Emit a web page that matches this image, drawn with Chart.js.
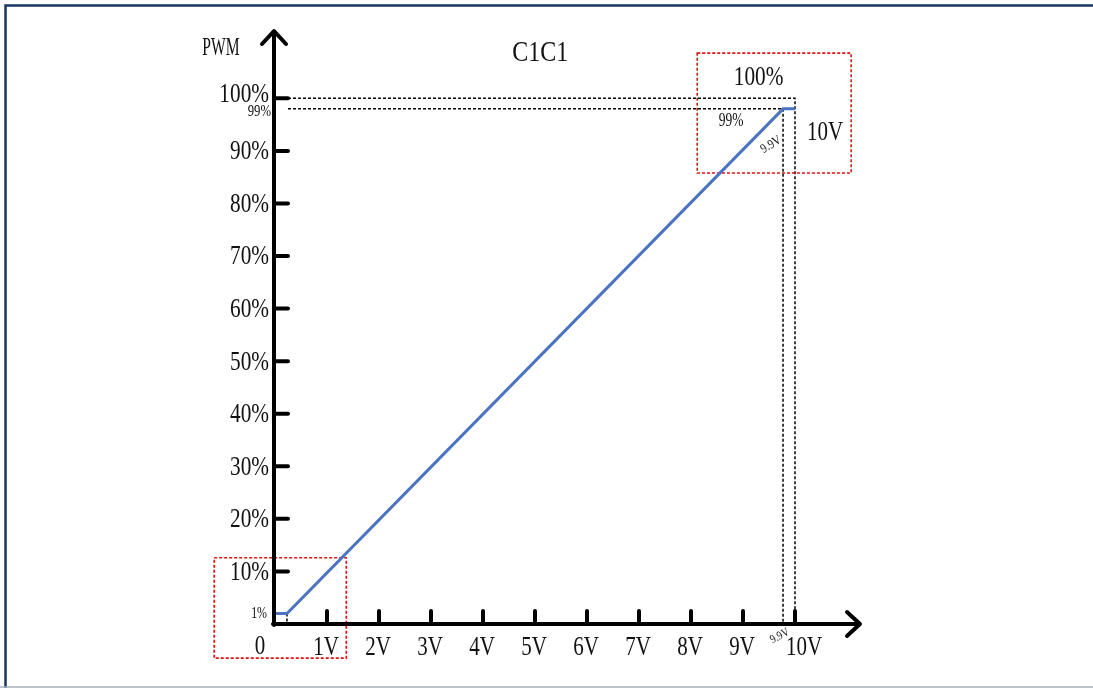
<!DOCTYPE html>
<html lang="zh-CN">
  <head>
    <meta charset="UTF-8" />
    <title>C1C1</title>
    <script src="https://cdn.jsdelivr.net/npm/chart.js"></script>
    <style>
      html, body { margin: 0; padding: 0; background: #fff; overflow: hidden; }
      canvas { display: block; }
    </style>
  </head>
  <body>
    <canvas id="grafico" width="1093" height="688"></canvas>
    <script>
      // dados
      const voltage = [0, 0.23, 9.77, 10];
      const pwm = [2, 2, 98, 98];
      const xTickValues = [1, 2, 3, 4, 5, 6, 7, 8, 9, 10];
      const xTickLabels = ["1V", "2V", "3V", "4V", "5V", "6V", "7V", "8V", "9V", "10V"];
      const yTickValues = [10, 20, 30, 40, 50, 60, 70, 80, 90, 100];
      const yTickLabels = ["10%", "20%", "30%", "40%", "50%", "60%", "70%", "80%", "90%", "100%"];
      const chartTitle = "C1C1";
      const yAxisTitle = "PWM";

      const FONT = '"Liberation Serif", "DejaVu Serif", serif';

      function text(ctx, str, x, y, size, align, sx, rot) {
        ctx.save();
        ctx.translate(x, y);
        if (rot) ctx.rotate(rot);
        ctx.scale(sx || 0.8, 1);
        ctx.font = size + "px " + FONT;
        ctx.fillStyle = "#111";
        ctx.textAlign = align || "center";
        ctx.textBaseline = "middle";
        ctx.fillText(str, 0, 0);
        ctx.restore();
      }

      function dotted(ctx, pts, color, width, dash) {
        ctx.save();
        ctx.strokeStyle = color;
        ctx.lineWidth = width;
        ctx.setLineDash(dash);
        ctx.beginPath();
        pts.forEach((p, i) => (i ? ctx.lineTo(p[0], p[1]) : ctx.moveTo(p[0], p[1])));
        ctx.stroke();
        ctx.restore();
      }

      const desenho = {
        id: "desenho",
        beforeDraw(chart) {
          const ctx = chart.ctx;
          ctx.save();
          ctx.strokeStyle = "#17365d";
          ctx.lineWidth = 2.5;
          ctx.strokeRect(5.5, 5.5, 1100, 700);
          ctx.strokeStyle = "#a7b0bd";
          ctx.lineWidth = 1.5;
          ctx.beginPath();
          ctx.moveTo(0, 687);
          ctx.lineTo(1093, 687);
          ctx.stroke();
          ctx.restore();
        },
        beforeDatasetsDraw(chart) {
          const ctx = chart.ctx;
          const x = chart.scales.x, y = chart.scales.y;
          const px = (v) => x.getPixelForValue(v);
          const py = (v) => y.getPixelForValue(v);
          const n = voltage.length - 1;
          // linhas de referência
          dotted(ctx, [[px(0.25), py(100)], [px(10), py(100)], [px(10), py(0)]], "#000", 1.5, [3, 2]);
          dotted(ctx, [[px(0.25), py(pwm[n])], [px(voltage[n - 1]), py(pwm[n])], [px(voltage[n - 1]), py(0)]], "#000", 1.5, [3, 2]);
          dotted(ctx, [[px(voltage[1]), py(pwm[1])], [px(voltage[1]), py(0)]], "#000", 1.5, [3, 2]);
          // caixas vermelhas
          ctx.save();
          ctx.strokeStyle = "#e01010";
          ctx.lineWidth = 1.6;
          ctx.setLineDash([3, 2]);
          ctx.strokeRect(px(8.12), py(108.6), px(11.08) - px(8.12), py(85.8) - py(108.6));
          ctx.strokeRect(px(-1.17), py(12.6), px(1.37) - px(-1.17), py(-6.5) - py(12.6));
          ctx.restore();
        },
        afterDatasetsDraw(chart) {
          const ctx = chart.ctx;
          const x = chart.scales.x, y = chart.scales.y;
          const px = (v) => x.getPixelForValue(v);
          const py = (v) => y.getPixelForValue(v);
          const x0 = px(0), y0 = py(0);
          const xEnd = chart.chartArea.right, yEnd = chart.chartArea.top;
          ctx.save();
          ctx.strokeStyle = "#000";
          ctx.lineWidth = 4;
          ctx.lineCap = "round";
          ctx.lineJoin = "round";
          ctx.beginPath();
          ctx.moveTo(x0 - 1, y0 + 1);
          ctx.lineTo(x0 - 1, yEnd + 2);
          ctx.moveTo(x0 - 13, yEnd + 14);
          ctx.lineTo(x0 - 1, yEnd + 1);
          ctx.lineTo(x0 + 11, yEnd + 14);
          ctx.moveTo(x0 - 2, y0);
          ctx.lineTo(xEnd - 1, y0);
          ctx.moveTo(xEnd - 13, y0 - 12);
          ctx.lineTo(xEnd, y0);
          ctx.lineTo(xEnd - 13, y0 + 12);
          yTickValues.forEach((v) => {
            ctx.moveTo(x0, py(v));
            ctx.lineTo(x0 + 13, py(v));
          });
          xTickValues.forEach((v) => {
            ctx.moveTo(px(v), y0);
            ctx.lineTo(px(v), y0 - 13);
          });
          ctx.stroke();
          ctx.restore();

          yTickValues.forEach((v, i) => {
            const off = v === 100 ? -4 : 1;
            text(ctx, yTickLabels[i], x0 - 6, py(v) + off, 28, "right", 0.76);
          });
          xTickValues.forEach((v, i) => {
            const off = v === 10 ? 9 : -1;
            text(ctx, xTickLabels[i], px(v) + off, y0 + 24, 28, "center", 0.75);
          });
          text(ctx, "0", x0 - 15, y0 + 23, 28, "center", 0.75);
          text(ctx, yAxisTitle, x0 - 54, yEnd + 18, 26, "center", 0.6);
          text(ctx, chartTitle, px(5.1), yEnd + 23, 30, "center", 0.8);

          // anotações
          const n = voltage.length - 1;
          text(ctx, "99%", x0 - 4, py(pwm[n]) + 3, 17, "right", 0.75);
          text(ctx, "1%", x0 - 8, py(pwm[0]), 17, "right", 0.7);
          text(ctx, "100%", px(9.3), py(104), 28, "center", 0.76);
          text(ctx, "99%", px(8.77), py(95.6), 18, "center", 0.75);
          text(ctx, "10V", px(10.58), py(93.4), 28, "center", 0.75);
          text(ctx, "9.9V", px(9.54), py(91.2), 13, "center", 0.85, -0.55);
          text(ctx, "9.9V", px(9.71), y0 + 12, 12, "center", 0.85, -0.5);
        },
      };

      const pontos = voltage.map((v, i) => ({ x: v, y: pwm[i] }));

      new Chart(document.getElementById("grafico").getContext("2d"), {
        type: "line",
        data: {
          datasets: [
            {
              label: "PWM",
              data: pontos,
              borderColor: "#4a74c2",
              borderWidth: 3,
              pointRadius: 0,
              fill: false,
              tension: 0,
            },
          ],
        },
        options: {
          responsive: false,
          animation: false,
          layout: { padding: { left: 275, right: 233, top: 30, bottom: 64 } },
          plugins: { legend: { display: false }, tooltip: { enabled: false } },
          scales: {
            x: { type: "linear", min: 0, max: 11.25, display: false },
            y: { type: "linear", min: 0, max: 113, display: false },
          },
        },
        plugins: [desenho],
      });
    </script>
  </body>
</html>
